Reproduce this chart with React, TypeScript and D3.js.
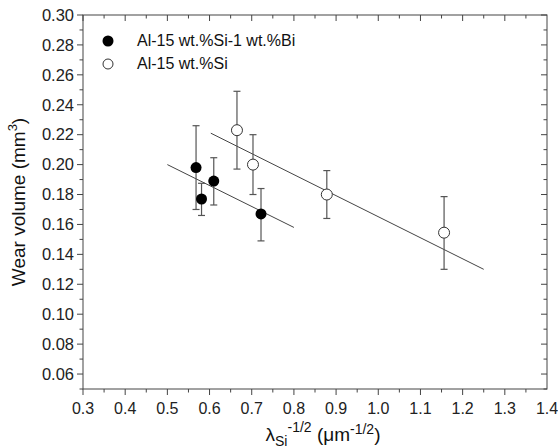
import React from "react"
import { scaleLinear, range, line } from "d3"

const width = 558
const height = 448

const margin = { top: 15, right: 11, bottom: 59, left: 83 }

// filled: Al-15 wt.%Si-1 wt.%Bi
const biX = [0.568, 0.581, 0.61, 0.722]
const biY = [0.198, 0.177, 0.189, 0.167]
const biHi = [0.226, 0.1875, 0.2046, 0.184]
const biLo = [0.17, 0.166, 0.173, 0.149]
const biFit = [[0.5, 0.2], [0.8, 0.158]]

// open: Al-15 wt.%Si
const siX = [0.665, 0.703, 0.878, 1.156]
const siY = [0.223, 0.2, 0.18, 0.1545]
const siHi = [0.249, 0.22, 0.196, 0.1786]
const siLo = [0.197, 0.18, 0.164, 0.13]
const siFit = [[0.603, 0.221], [1.25, 0.13]]

const xTicks = [0.3, 0.4, 0.5, 0.6, 0.7, 0.8, 0.9, 1.0, 1.1, 1.2, 1.3, 1.4]
const yTicks = [0.06, 0.08, 0.1, 0.12, 0.14, 0.16, 0.18, 0.2, 0.22, 0.24, 0.26, 0.28, 0.3]

const legendLabels = ["Al-15 wt.%Si-1 wt.%Bi", "Al-15 wt.%Si"]

const font = "Arial, 'Liberation Sans', sans-serif"

function App() {
  const innerWidth = width - margin.left - margin.right
  const innerHeight = height - margin.top - margin.bottom

  const xScale = scaleLinear().domain([0.3, 1.4]).range([0, innerWidth])
  const yScale = scaleLinear().domain([0.05, 0.3]).range([innerHeight, 0])

  const xMinor = range(0, 22).map(i => 0.3 + i * 0.05)
  const yMinor = range(0, 26).map(i => 0.05 + i * 0.01)

  const fitLine = line<number[]>()
    .x(d => xScale(d[0]))
    .y(d => yScale(d[1]))

  const errColor = "#555"

  const errorBars = (xs: number[], hi: number[], lo: number[]) =>
    xs.map((x, i) => (
      <g key={i} stroke={errColor} strokeWidth={1.2}>
        <line x1={xScale(x)} x2={xScale(x)} y1={yScale(hi[i])} y2={yScale(lo[i])} />
        <line x1={xScale(x) - 3.5} x2={xScale(x) + 3.5} y1={yScale(hi[i])} y2={yScale(hi[i])} />
        <line x1={xScale(x) - 3.5} x2={xScale(x) + 3.5} y1={yScale(lo[i])} y2={yScale(lo[i])} />
      </g>
    ))

  return (
    <svg width={width} height={height} style={{ position: "absolute", left: 0, top: 0, background: "white" }}>
      <g transform={`translate(${margin.left}, ${margin.top})`} fontFamily={font}>
        {/* frame */}
        <rect width={innerWidth} height={innerHeight} fill="none" stroke="#444" strokeWidth={1} />

        {/* bottom + top ticks */}
        {xMinor.map((v, i) => {
          const major = i % 2 === 0
          const len = major ? 6 : 3.5
          return (
            <g key={i} stroke="#444">
              <line x1={xScale(v)} x2={xScale(v)} y1={innerHeight} y2={innerHeight + len} />
              <line x1={xScale(v)} x2={xScale(v)} y1={0} y2={len} />
            </g>
          )
        })}
        {xTicks.map(t => (
          <text key={t} x={xScale(t)} y={innerHeight + 25} textAnchor="middle" fontSize={16} fill="#222">
            {t.toFixed(1)}
          </text>
        ))}

        {/* left + right ticks */}
        {yMinor.map((v, i) => {
          const major = i % 2 === 1
          const len = major ? 6 : 3.5
          return (
            <g key={i} stroke="#444">
              <line x1={0} x2={-len} y1={yScale(v)} y2={yScale(v)} />
              <line x1={innerWidth} x2={innerWidth - len} y1={yScale(v)} y2={yScale(v)} />
            </g>
          )
        })}
        {yTicks.map(t => (
          <text key={t} x={-9} y={yScale(t)} dy="0.35em" textAnchor="end" fontSize={16.5} fill="#222">
            {t.toFixed(2)}
          </text>
        ))}

        {/* fit lines */}
        <path d={fitLine(biFit) ?? ""} fill="none" stroke="#444" strokeWidth={1} />
        <path d={fitLine(siFit) ?? ""} fill="none" stroke="#444" strokeWidth={1} />

        {errorBars(biX, biHi, biLo)}
        {errorBars(siX, siHi, siLo)}

        {biX.map((x, i) => (
          <circle key={i} cx={xScale(x)} cy={yScale(biY[i])} r={5.5} fill="black" />
        ))}
        {siX.map((x, i) => (
          <circle key={i} cx={xScale(x)} cy={yScale(siY[i])} r={5.5} fill="white" stroke="#333" strokeWidth={1} />
        ))}

        {/* legend */}
        <circle cx={25} cy={26} r={5.5} fill="black" />
        <circle cx={25} cy={49} r={5} fill="white" stroke="#333" strokeWidth={1} />
        <text x={54} y={31} fontSize={16} fill="#111">{legendLabels[0]}</text>
        <text x={54} y={54} fontSize={16} fill="#111">{legendLabels[1]}</text>

        {/* axis titles */}
        <text x={innerWidth / 2 + 8} y={innerHeight + 52} textAnchor="middle" fontSize={19} fill="#111">
          λ<tspan fontSize={14} dy={5}>Si</tspan>
          <tspan fontSize={14} dy={-14}>-1/2</tspan>
          <tspan fontSize={19} dy={9}> (μm</tspan>
          <tspan fontSize={14} dy={-7}>-1/2</tspan>
          <tspan fontSize={19} dy={7}>)</tspan>
        </text>
        <text transform={`translate(${-58}, ${innerHeight / 2}) rotate(-90)`} textAnchor="middle" fontSize={19} fill="#111">
          Wear volume (mm<tspan fontSize={13} dy={-8}>3</tspan><tspan dy={8}>)</tspan>
        </text>
      </g>
    </svg>
  )
}

export default App
